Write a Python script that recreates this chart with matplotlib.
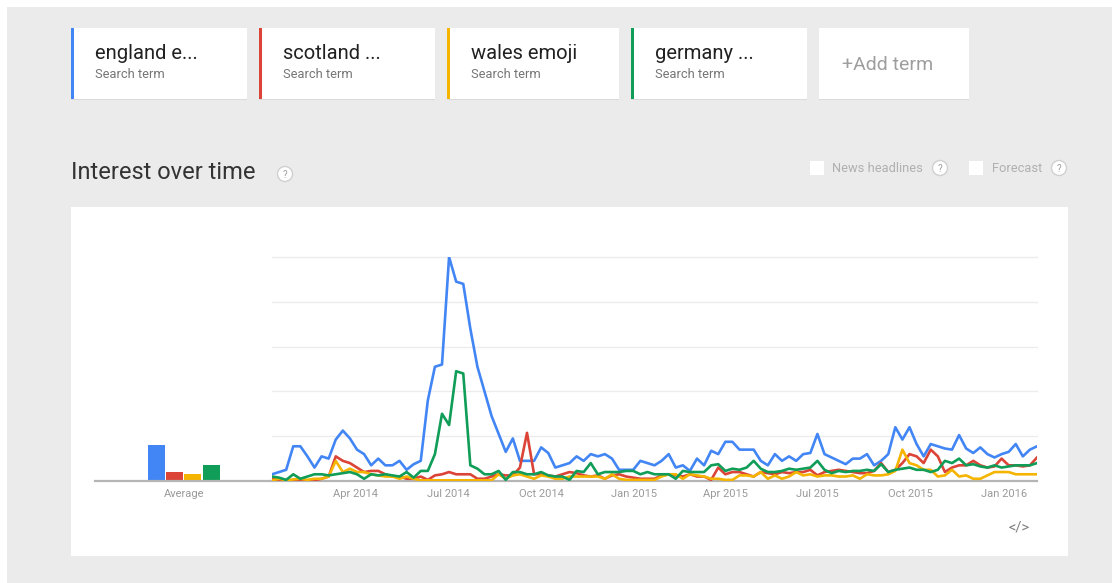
import matplotlib.pyplot as plt
import matplotlib.dates as mdates
from matplotlib.patches import Rectangle, Circle
import pandas as pd

plt.rcParams['font.family'] = ['Roboto', 'DejaVu Sans']

# search terms and their colours
terms = ['england e...', 'scotland ...', 'wales emoji', 'germany ...']
colors = ['#4285f4', '#db4437', '#f4b400', '#0f9d58']
averages = [16, 4, 3, 7]

# weekly interest, Jan 2014 - Jan 2016
weeks = pd.date_range('2014-01-08', periods=109, freq='7D')

england = [3, 4, 5, 15.5, 15.5, 11, 6, 11, 10, 18.5,
           22.5, 19, 14, 12, 7, 10, 7, 7, 9, 5,
           7.5, 9, 36, 51, 52, 100, 89, 88, 68, 51,
           40, 29, 21, 13, 19, 9, 9, 9, 15, 12.5,
           6, 7, 8, 11, 9, 12, 11, 12, 10, 5,
           5, 5, 9, 8, 7, 9, 12, 6, 7, 4.5,
           10, 7, 13.5, 12, 17.5, 17.5, 14, 14, 14, 9,
           7, 12, 9, 11, 9, 12, 12.5, 21, 12, 10.5,
           9, 7.5, 10, 10, 12, 7, 9, 12, 24, 18.5,
           24, 16.5, 11, 16.5, 15.5, 14.5, 14, 20.5, 14.5, 12.5,
           15, 12, 10.5, 12, 13, 16.5, 11, 14, 15.5]

scotland = [1, 0.5, 0.3, 0.3, 0.3, 0.3, 0.3, 1, 2, 11,
            9, 8, 6, 4, 4.5, 4.5, 3, 2, 2, 1,
            1, 2, 0.5, 2.5, 3, 4, 3, 3, 3, 1,
            1, 2, 3, 2.5, 2.5, 6, 21.5, 3, 3, 2.5,
            2, 3, 4, 3.5, 2.5, 2, 2.5, 1, 2.5, 3,
            2, 1.5, 1, 1, 1, 2.5, 3, 2.5, 2, 3,
            2, 2, 0.5, 6, 3, 4, 4, 3, 2, 4,
            3.5, 3, 4, 3.5, 4, 4, 5, 2.5, 4, 4.5,
            5, 4.5, 4, 3.5, 3.5, 4.5, 8, 4, 5, 8,
            12, 11, 8, 14, 11, 4, 6, 7, 7, 9,
            7, 6, 6.5, 10, 7, 7, 6.5, 7, 10.5]

wales = [0.3, 1, 0.3, 0.7, 1, 0.5, 1, 1, 2, 9,
         4, 5.5, 4, 4, 3, 2.5, 2, 2, 1, 2,
         1, 0.3, 0.3, 0.3, 0.3, 0.3, 0.3, 0.3, 0.3, 0.3,
         0.3, 0.3, 3, 1, 2.5, 3, 2, 1, 2.5, 2,
         1, 1, 2, 2, 2, 2, 2, 1, 3, 1,
         0.5, 0.5, 0.5, 0.5, 0.5, 2, 3, 3, 1, 3,
         2.5, 2, 1, 1, 0.5, 0.5, 2.5, 2.5, 2, 4,
         1, 2.5, 1, 2, 4, 2.5, 3, 2, 2.5, 2.5,
         2, 2, 2.5, 1, 3, 2.5, 2.5, 3, 4.5, 14,
         8, 7, 5, 5, 2, 2.5, 5, 2, 2.5, 1,
         1, 2.5, 4, 4, 4, 3, 3, 3, 3]

germany = [2, 1.5, 0.5, 3, 1, 2, 3, 3, 2.5, 3,
           3.5, 4, 3, 1, 3, 2.5, 3, 2.5, 2, 4,
           1.5, 4.5, 4.5, 12, 30, 25, 49, 48, 7, 5.5,
           3, 3, 4.5, 0.5, 4, 4, 3, 3, 4, 2.5,
           2, 2, 0.5, 4.5, 4, 8, 3, 4, 4, 4,
           4.5, 4.5, 3, 4, 3, 3, 3, 1, 4.5, 4,
           4, 4, 7, 7.5, 4.5, 5.5, 5, 6, 9, 5.5,
           4, 4, 4.5, 5.5, 5, 5.5, 6, 9, 5, 3.5,
           4.5, 4, 4.5, 4.5, 5, 4.5, 7.5, 4, 5, 5.5,
           6, 5, 5, 4, 5, 9, 8, 10, 7, 7.5,
           6.5, 6, 7, 6, 6.5, 7, 7, 7, 8]

series = [england, scotland, wales, germany]

W, H = 1112, 583
fig = plt.figure(figsize=(W / 100, H / 100), dpi=100, facecolor='white')

# page background, cards and panel drawn in pixel coordinates
bg = fig.add_axes([0, 0, 1, 1], zorder=0)
bg.set_xlim(0, W)
bg.set_ylim(H, 0)
bg.axis('off')
bg.add_patch(Rectangle((7, 7), W, H, color='#ebebeb', lw=0))

card_x = [(71, 247), (259, 435), (447, 619), (631, 807)]
for (x0, x1), term, c in zip(card_x, terms, colors):
    bg.add_patch(Rectangle((x0, 29), x1 - x0, 71, color='#dadada', lw=0))
    bg.add_patch(Rectangle((x0, 28), x1 - x0, 71, color='white', lw=0))
    bg.add_patch(Rectangle((x0, 28), 3, 71, color=c, lw=0))
    bg.text(x0 + 24, 59, term, fontsize=14.5, color='#212121', va='baseline')
    bg.text(x0 + 24, 77.5, 'Search term', fontsize=9.3, color='#757575', va='baseline')
bg.add_patch(Rectangle((819, 29), 150, 71, color='#dadada', lw=0))
bg.add_patch(Rectangle((819, 28), 150, 71, color='white', lw=0))
bg.text(842, 70.5, '+Add term', fontsize=14, color='#9e9e9e', va='baseline')

bg.text(71, 179, 'Interest over time', fontsize=17, color='#333333', va='baseline')


def help_icon(x, y):
    bg.add_patch(Circle((x, y), 7.5, facecolor='white', edgecolor='#d0d0d0', lw=1))
    bg.text(x, y + 0.5, '?', fontsize=7, color='#9e9e9e', ha='center', va='center')


help_icon(285, 174)
bg.add_patch(Rectangle((810, 161), 14, 14, color='white', lw=0))
bg.text(832, 172.5, 'News headlines', fontsize=9.3, color='#b0b0b0', va='baseline')
help_icon(940, 168)
bg.add_patch(Rectangle((969, 161), 14, 14, color='white', lw=0))
bg.text(992, 172.5, 'Forecast', fontsize=9.3, color='#b0b0b0', va='baseline')
help_icon(1059, 168)

bg.add_patch(Rectangle((71, 207), 997, 349, color='white', lw=0))
bg.text(1019, 528, '</>', fontsize=10.5, color='#808080', ha='center', va='center')

# chart geometry in pixels
base_y, top_y = 481, 257
ax_bottom = (H - base_y) / H
ax_height = (base_y - top_y) / H
grey = '#9a9a9a'

# averages bar section
ax_avg = fig.add_axes([95 / W, ax_bottom, (272 - 95) / W, ax_height], zorder=2)
ax_avg.set_facecolor('none')
ax_avg.bar(range(4), averages, width=0.93, color=colors)
ax_avg.set_xlim(-3.38, 6.35)
ax_avg.set_ylim(0, 100)
ax_avg.axhline(0, color='#b5b5b5', lw=1.6, clip_on=False)
ax_avg.set_xticks([1.5])
ax_avg.set_xticklabels(['Average'])
ax_avg.set_yticks([])
for s in ax_avg.spines.values():
    s.set_visible(False)
ax_avg.tick_params(axis='x', length=0, pad=6, labelsize=8, labelcolor=grey)

# interest over time lines
ax = fig.add_axes([272 / W, ax_bottom, (1037 - 272) / W, ax_height], zorder=2)
ax.set_facecolor('none')
for g in [20, 40, 60, 80, 100]:
    ax.axhline(g, color='#ececec', lw=1, clip_on=False, zorder=0)
ax.axhline(0, color='#b5b5b5', lw=1.6, clip_on=False, zorder=1)
for vals, c in zip(series, colors):
    ax.plot(weeks, vals, color=c, lw=1.9, solid_joinstyle='round', zorder=3)
ax.set_xlim(weeks[0], weeks[-1])
ax.set_ylim(0, 100)
ax.xaxis.set_major_locator(mdates.MonthLocator(bymonth=[1, 4, 7, 10]))
ax.xaxis.set_major_formatter(mdates.DateFormatter('%b %Y'))
ax.set_yticks([])
for s in ax.spines.values():
    s.set_visible(False)
ax.tick_params(axis='x', length=0, pad=6, labelsize=8, labelcolor=grey)

fig.savefig('out.png', dpi=100, facecolor=fig.get_facecolor())
